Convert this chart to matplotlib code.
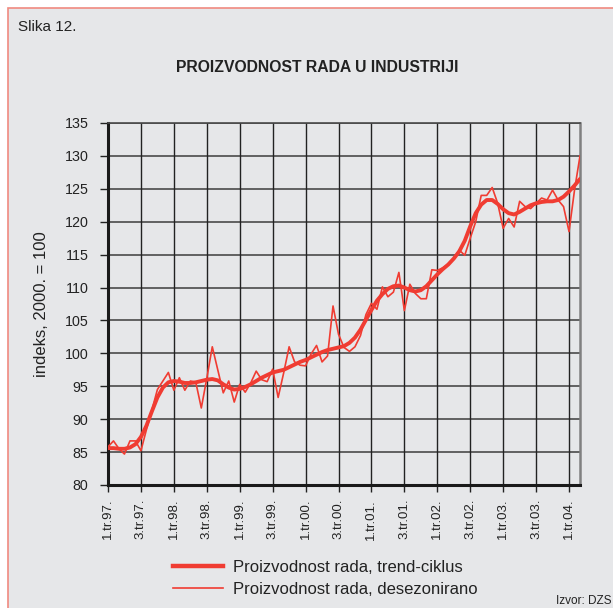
import matplotlib
matplotlib.use("Agg")
import matplotlib.pyplot as plt
from matplotlib.patches import Rectangle
from matplotlib.lines import Line2D

plt.rcParams['font.family'] = ['Liberation Sans', 'DejaVu Sans']

tick_labels = ["1.tr.97.", "3.tr.97.", "1.tr.98.", "3.tr.98.", "1.tr.99.", "3.tr.99.",
               "1.tr.00.", "3.tr.00.", "1.tr.01.", "3.tr.01.", "1.tr.02.", "3.tr.02.",
               "1.tr.03.", "3.tr.03.", "1.tr.04."]

# monthly, Jan 1997 .. Mar 2004
desezonirano = [85.8, 86.7, 85.5, 84.7, 86.7, 86.7, 85.2, 88.4, 91.4, 94.5, 95.8, 97.1,
                94.4, 96.3, 94.4, 95.8, 95.6, 91.7, 96.2, 101.0, 97.5, 94.0, 95.8, 92.6,
                95.3, 94.1, 95.5, 97.3, 96.0, 95.7, 97.6, 93.3, 97.0, 101.0, 98.7, 98.2,
                98.1, 99.9, 101.2, 98.7, 99.6, 107.2, 102.9, 100.9, 100.3, 101.0, 102.7, 105.9,
                107.6, 106.7, 110.1, 108.6, 109.3, 112.3, 106.5, 110.5, 109.1, 108.3, 108.3, 112.7,
                112.6, 113.0, 113.5, 114.4, 115.7, 114.9, 117.5, 120.0, 124.0, 124.0, 125.2, 122.8,
                119.0, 120.5, 119.2, 123.1, 122.3, 122.0, 122.8, 123.6, 123.3, 124.8, 123.3, 122.3,
                118.5, 124.8, 130.0]

trend_ciklus = [85.6, 85.6, 85.5, 85.5, 85.7, 86.2, 87.3, 89.0, 91.2, 93.3, 94.8, 95.6,
                95.8, 95.7, 95.5, 95.5, 95.6, 95.8, 96.0, 96.1, 95.9, 95.3, 94.8, 94.5,
                94.6, 94.9, 95.3, 95.8, 96.3, 96.7, 97.1, 97.3, 97.5, 97.9, 98.3, 98.7,
                99.0, 99.4, 99.8, 100.2, 100.5, 100.7, 100.9, 101.1, 101.6, 102.4, 103.6, 105.1,
                106.6, 108.0, 109.0, 109.8, 110.2, 110.3, 110.0, 109.6, 109.4, 109.6, 110.2, 111.1,
                112.0, 112.8, 113.5, 114.4, 115.5, 117.1, 119.3, 121.3, 122.6, 123.3, 123.3, 122.7,
                121.9, 121.3, 121.1, 121.5, 122.0, 122.5, 122.8, 123.0, 123.1, 123.1, 123.3, 123.8,
                124.6, 125.5, 126.5]

months = list(range(len(desezonirano)))
tick_pos = [6 * k for k in range(len(tick_labels))]

BG = '#e6e7e9'
RED = '#f03c32'

fig = plt.figure(figsize=(6.13, 6.08), dpi=100)
fig.patch.set_facecolor('white')
W, H = 613, 608
bg = Rectangle((8 / W, -0.1), 1.2, 1 - 8 / H + 0.1, transform=fig.transFigure,
               facecolor=BG, edgecolor='#f08a80', linewidth=1.2, zorder=-10)
fig.patches.append(bg)

ax = fig.add_axes([108 / W, 1 - 485 / H, (580 - 108) / W, (485 - 123) / H])
ax.set_zorder(5)
ax.set_facecolor(BG)

ax.plot(months, trend_ciklus, color=RED, lw=2.8, solid_capstyle='round', zorder=3)
ax.plot(months, desezonirano, color=RED, lw=1.2, zorder=4)

ax.set_xlim(0, len(months) - 1)
ax.set_ylim(80, 135)
ax.set_yticks(range(80, 136, 5))
ax.set_xticks(tick_pos)
ax.set_xticklabels(tick_labels, rotation=90, fontsize=9.5, color='#222222')
ax.tick_params(axis='y', length=6, width=1, pad=8, colors='#222222', labelsize=10.3)
ax.tick_params(axis='x', length=5, width=1, pad=5, colors='#222222')

for y in range(85, 136, 5):
    ax.axhline(y, color='#4a4a4a', lw=1.2, zorder=1)
for x in tick_pos[1:]:
    ax.axvline(x, color='#222222', lw=1.0, zorder=1)

ax.spines['left'].set_linewidth(2.2)
ax.spines['left'].set_color('#1a1a1a')
ax.spines['bottom'].set_linewidth(2.2)
ax.spines['bottom'].set_color('#1a1a1a')
ax.spines['right'].set_linewidth(1.8)
ax.spines['right'].set_color('#808080')
ax.spines['top'].set_linewidth(1.2)
ax.spines['top'].set_color('#4a4a4a')

ax.set_ylabel("indeks, 2000. = 100", fontsize=12, color='#222222', labelpad=11)

fig.text(18 / W, 1 - 27 / H, "Slika 12.", fontsize=11, color='#222222', va='center', ha='left')
fig.text(317 / W, 1 - 67 / H, "PROIZVODNOST RADA U INDUSTRIJI", fontsize=11.3, fontweight='bold',
         color='#222222', va='center', ha='center')

handles = [Line2D([], [], color=RED, lw=3.2), Line2D([], [], color=RED, lw=1.2)]
fig.legend(handles, ["Proizvodnost rada, trend-ciklus", "Proizvodnost rada, desezonirano"],
           loc='upper left', bbox_to_anchor=(158 / W, 1 - 545 / H), frameon=False,
           fontsize=12, handlelength=3.0, handletextpad=0.6, labelspacing=0.4,
           labelcolor='#222222')

fig.text(556 / W, 1 - 601 / H, "Izvor: DZS", fontsize=8.5, color='#222222', va='center', ha='left')

fig.savefig("out.png", dpi=100, facecolor=fig.get_facecolor())
